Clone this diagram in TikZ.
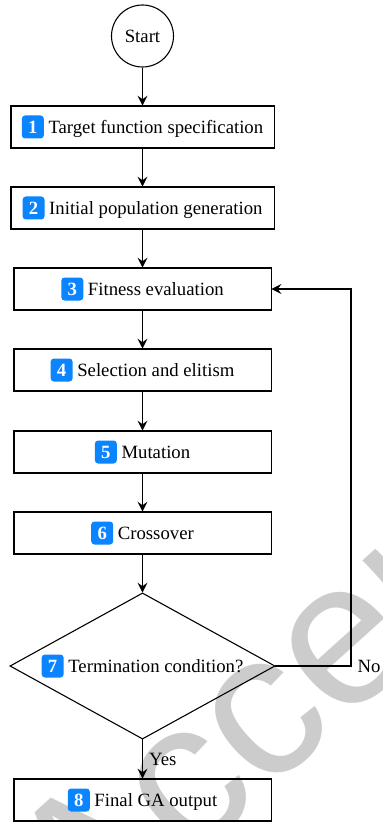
\documentclass[tikz,border=0pt]{standalone}
\usepackage{fontspec}
\setmainfont{Liberation Serif}
\newfontfamily\stampfont{Liberation Sans}
\usetikzlibrary{shapes.geometric}
\usetikzlibrary{arrows.meta}
\definecolor{badgeblue}{RGB}{10,132,255}
\newcommand{\stepno}[1]{\tikz[baseline=(b.base)]\node[shape=rectangle,draw=none,fill=badgeblue,rounded corners=1.8pt,text=white,font=\bfseries,minimum width=12.1pt,minimum height=12.65pt,inner sep=0pt,outer sep=0pt] (b) {#1};}

\begin{document}
\begin{tikzpicture}[x=0.55pt,y=-0.55pt,line width=0.6pt,font=\fontsize{10.3}{12}\selectfont,
	stepbox/.style={draw,rectangle,minimum width=141.4pt,minimum height=23.1pt,inner sep=2pt},
	flow/.style={-{Stealth[length=5.5pt,width=5.5pt,inset=2pt]}}]
	\useasboundingbox (0,0) rectangle (382,822);
	\node[text=black!20,font=\stampfont\fontsize{113}{113}\selectfont,rotate=42] (stamp) at (369,630) {Accepted};
	\node[draw,circle,minimum size=34.1pt,inner sep=0pt] (start) at (142.5,36) {Start};
	\node[stepbox,minimum width=144.7pt] (target) at (142.5,127) {\stepno{1} Target function specification};
	\node[stepbox,minimum width=144.7pt] (init) at (142.5,208) {\stepno{2} Initial population generation};
	\node[stepbox] (fitness) at (142.5,289) {\stepno{3} Fitness evaluation};
	\node[stepbox] (select) at (142.5,370) {\stepno{4} Selection and elitism};
	\node[stepbox] (mutate) at (142.5,452) {\stepno{5} Mutation};
	\node[stepbox] (cross) at (142.5,533) {\stepno{6} Crossover};
	\node[draw,diamond,aspect=1.8,inner sep=1pt,minimum width=145.75pt,minimum height=80.3pt] (cond) at (142.5,666) {\stepno{7} Termination condition?};
	\node[stepbox] (output) at (142.5,800) {\stepno{8} Final GA output};
	\coordinate (turn) at (351,666);
	\draw[flow] (start) -- (target);
	\draw[flow] (target) -- (init);
	\draw[flow] (init) -- (fitness);
	\draw[flow] (fitness) -- (select);
	\draw[flow] (select) -- (mutate);
	\draw[flow] (mutate) -- (cross);
	\draw[flow] (cross) -- (cond);
	\draw[flow] (cond) -- (output) node[midway,right] {Yes};
	\draw[flow] (cond) -- (turn) node[right] {No} |- (fitness);
\end{tikzpicture}
\end{document}
